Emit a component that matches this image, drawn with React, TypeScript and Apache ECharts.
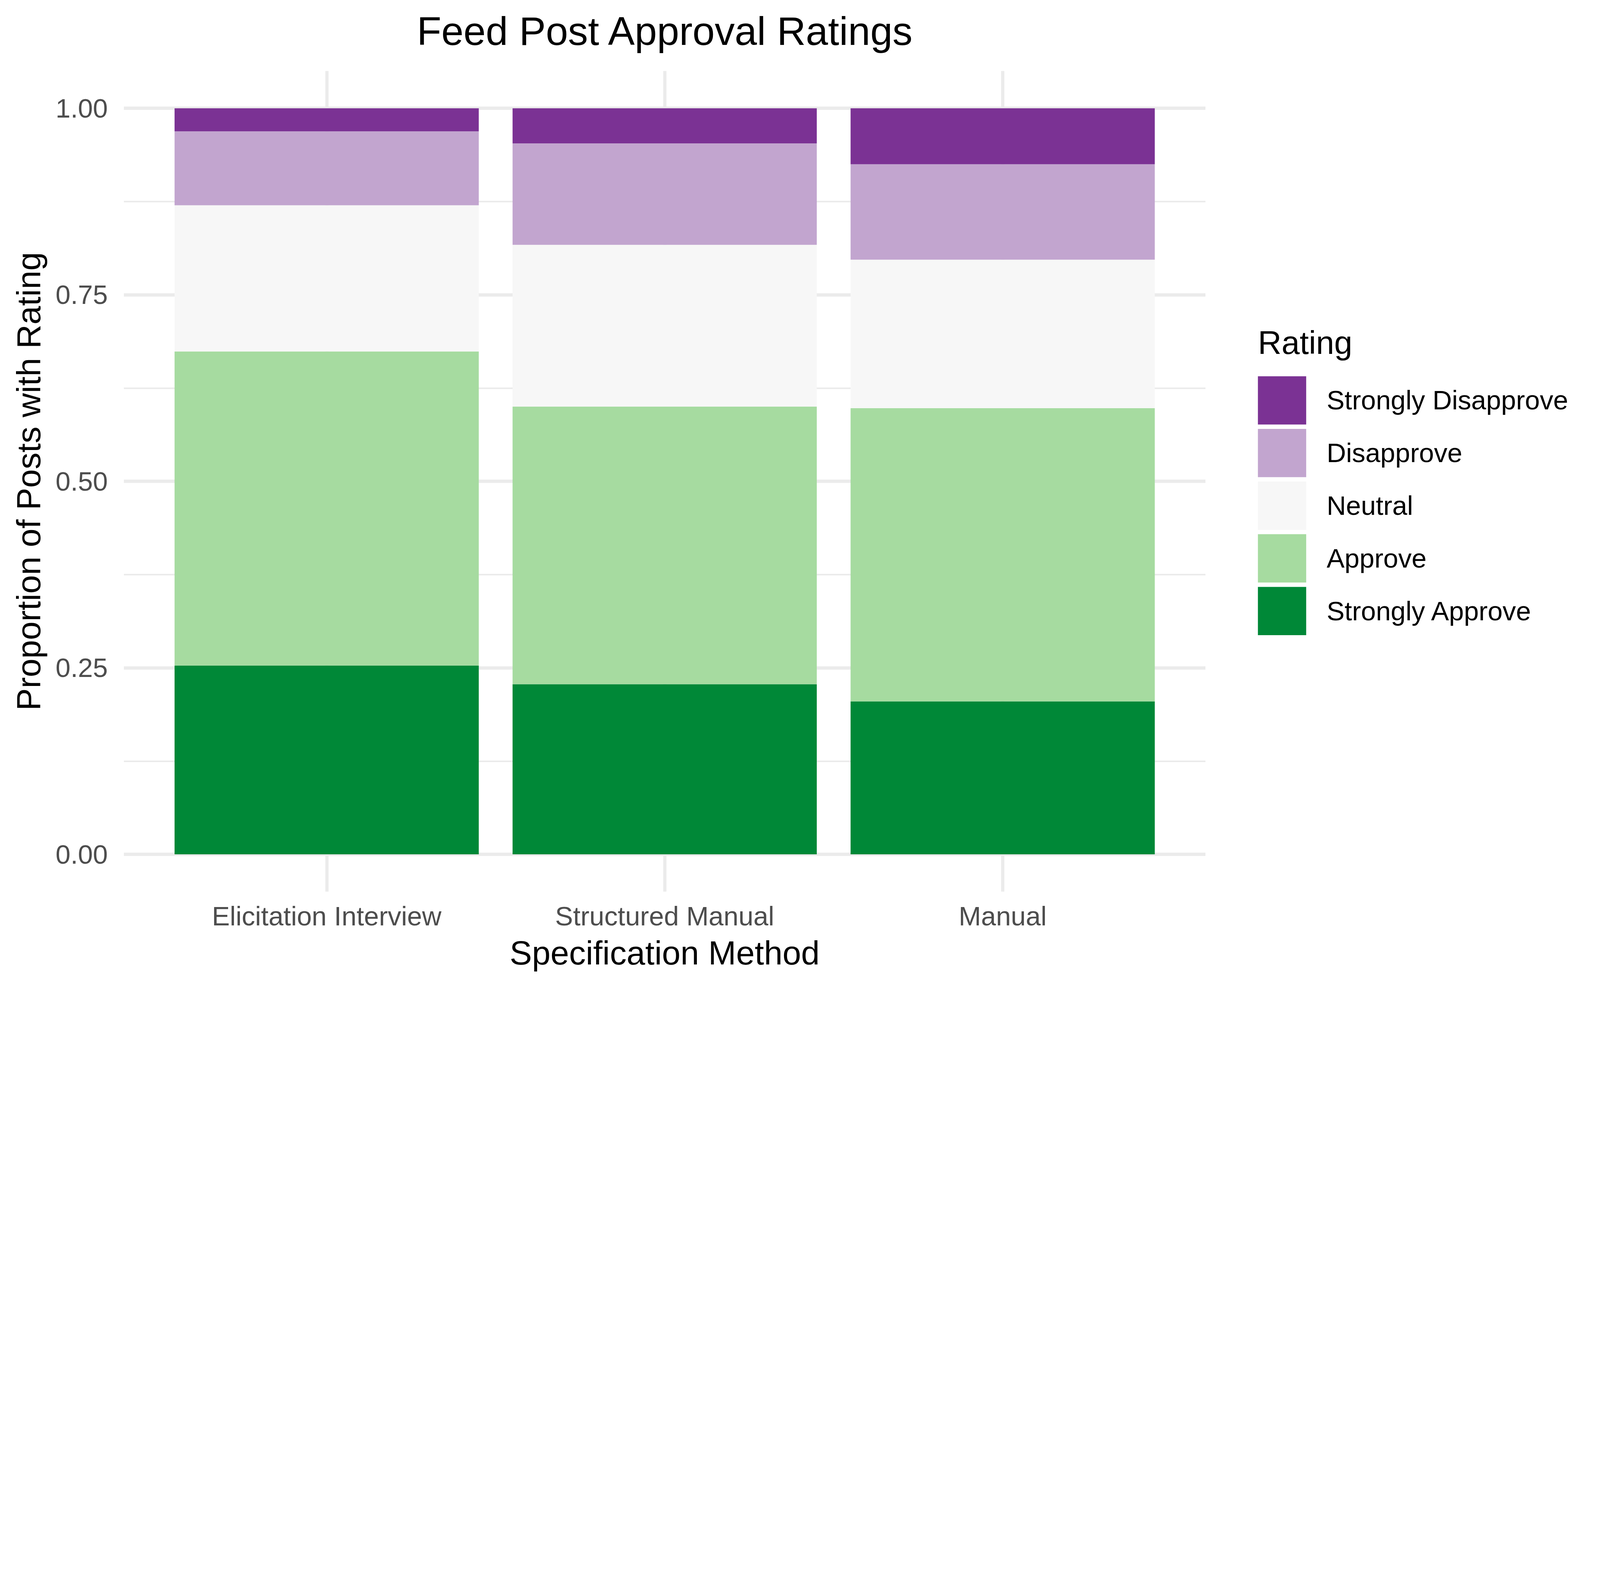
import React, { useEffect, useRef } from 'react';
import * as echarts from 'echarts';

const categories = ['Elicitation Interview', 'Structured Manual', 'Manual'];
const ratingNames = ['Strongly Approve', 'Approve', 'Neutral', 'Disapprove', 'Strongly Disapprove'];
const legendOrder = ['Strongly Disapprove', 'Disapprove', 'Neutral', 'Approve', 'Strongly Approve'];
const ratingColors = ['#008837', '#A6DBA0', '#F7F7F7', '#C2A5CF', '#7B3294'];

const stronglyApprove = [0.253, 0.228, 0.205];
const approve = [0.421, 0.372, 0.393];
const neutral = [0.196, 0.217, 0.199];
const disapprove = [0.099, 0.136, 0.128];
const stronglyDisapprove = [0.031, 0.047, 0.075];

const seriesValues = [stronglyApprove, approve, neutral, disapprove, stronglyDisapprove];

const FONT = "'Liberation Sans', Arial, Helvetica, sans-serif";
const BASE_W = 6562;
const BASE_H = 4055;

function getScale() {
  const w = window.innerWidth || BASE_W;
  const h = window.innerHeight || BASE_H;
  return Math.min(1, w / BASE_W, h / BASE_H);
}

export default function App() {
  const ref = useRef<HTMLDivElement>(null);
  const s = getScale();

  useEffect(() => {
    document.body.style.margin = '0';
    document.body.style.overflow = 'hidden';
    const chart = echarts.init(ref.current!, null, { renderer: 'svg' });
    const p = (v: number) => v * s;
    const W = BASE_W;
    const H = BASE_H;
    const panelL = 508;
    const panelR = 4944;
    const unit = (panelR - panelL) / 3.2;
    const zeroY = 3504;
    const oneY = 444;
    const grid = '#EBEBEB';

    chart.setOption({
      animation: false,
      backgroundColor: '#ffffff',
      textStyle: { fontFamily: FONT },
      title: [
        {
          text: 'Feed Post Approval Ratings',
          left: p((panelL + panelR) / 2),
          top: p(46),
          padding: 0,
          textAlign: 'center',
          textStyle: { fontSize: p(164), fontWeight: 'normal', color: '#000000', fontFamily: FONT },
        },
        {
          text: 'Rating',
          left: p(5159),
          top: p(1338),
          padding: 0,
          textStyle: { fontSize: p(134), fontWeight: 'normal', color: '#000000', fontFamily: FONT },
        },
      ],
      legend: {
        data: legendOrder,
        orient: 'vertical',
        left: p(5159),
        top: p(1543),
        padding: 0,
        icon: 'rect',
        itemWidth: p(198),
        itemHeight: p(198),
        itemGap: p(18),
        selectedMode: false,
        textStyle: { fontSize: p(110), color: '#000000', fontFamily: FONT, padding: [0, 0, 0, p(76)] },
      },
      grid: [
        {
          left: p(panelL + 0.1 * unit),
          right: p(W - (panelR - 0.1 * unit)),
          top: p(oneY),
          bottom: p(H - zeroY),
        },
        {
          left: p(panelL),
          right: p(W - panelR),
          top: p(oneY),
          bottom: p(H - zeroY),
        },
        {
          left: p(panelL + 0.6 * unit),
          right: p(W - (panelR - 0.6 * unit)),
          top: p(291),
          bottom: p(H - 3657),
        },
      ],
      xAxis: [
        {
          type: 'category',
          gridIndex: 0,
          data: categories,
          axisLine: { show: false },
          axisTick: { show: false },
          splitLine: { show: false },
          axisLabel: { margin: p(199), fontSize: p(110), color: '#4D4D4D', fontFamily: FONT, interval: 0 },
        },
        { type: 'value', gridIndex: 1, min: 0, max: 1, show: false },
        {
          type: 'value',
          gridIndex: 2,
          min: 1,
          max: 3,
          interval: 1,
          axisLine: { show: false },
          axisTick: { show: false },
          axisLabel: { show: false },
          splitLine: { show: true, lineStyle: { color: grid, width: p(13.4) } },
        },
      ],
      yAxis: [
        { type: 'value', gridIndex: 0, min: 0, max: 1, show: false },
        {
          type: 'value',
          gridIndex: 1,
          min: 0,
          max: 1,
          interval: 0.25,
          axisLine: { show: false },
          axisTick: { show: false },
          axisLabel: {
            formatter: (v: number) => v.toFixed(2),
            margin: p(66),
            fontSize: p(110),
            color: '#4D4D4D',
            fontFamily: FONT,
          },
          splitLine: { show: true, lineStyle: { color: grid, width: p(13.4) } },
          minorTick: { show: false, splitNumber: 2 },
          minorSplitLine: { show: true, lineStyle: { color: grid, width: p(6.7) } },
        },
        { type: 'value', gridIndex: 2, min: 0, max: 1, show: false },
      ],
      graphic: [
        {
          type: 'text',
          x: p(118),
          y: p(1974),
          rotation: Math.PI / 2,
          style: {
            text: 'Proportion of Posts with Rating',
            font: `${p(137)}px ${FONT}`,
            fill: '#000000',
            textAlign: 'center',
            textVerticalAlign: 'middle',
          },
        },
        {
          type: 'text',
          x: p((panelL + panelR) / 2),
          y: p(3908),
          style: {
            text: 'Specification Method',
            font: `${p(137)}px ${FONT}`,
            fill: '#000000',
            textAlign: 'center',
            textVerticalAlign: 'middle',
          },
        },
      ],
      series: ratingNames.map((name, i) => ({
        name,
        type: 'bar',
        xAxisIndex: 0,
        yAxisIndex: 0,
        stack: 'total',
        barCategoryGap: '10%',
        data: seriesValues[i],
        itemStyle: { color: ratingColors[i] },
        emphasis: { disabled: true },
      })),
    });

    return () => chart.dispose();
  }, [s]);

  return <div ref={ref} style={{ width: BASE_W * s, height: BASE_H * s, background: '#ffffff' }} />;
}
